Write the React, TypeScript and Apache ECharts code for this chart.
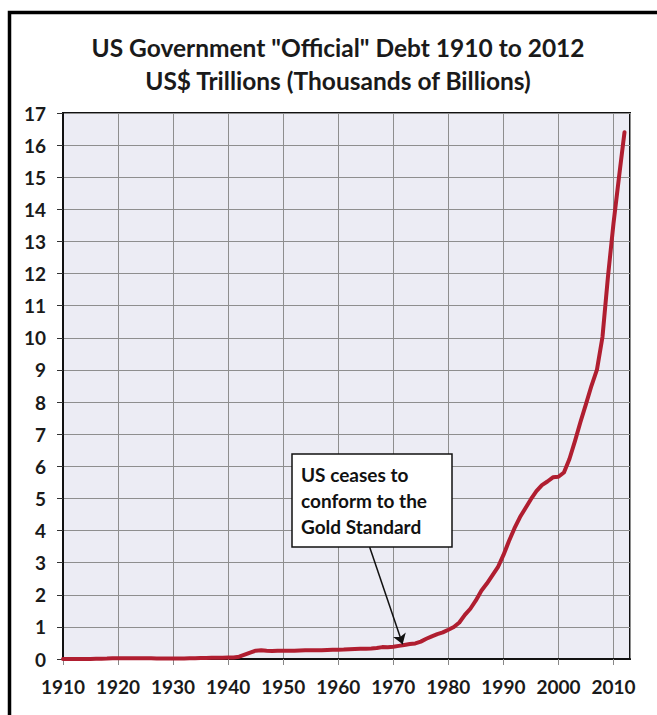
import React, { useEffect, useRef } from "react";
import * as echarts from "echarts";

const years: number[] = [
  1910, 1911, 1912, 1913, 1914, 1915, 1916, 1917, 1918, 1919,
  1920, 1921, 1922, 1923, 1924, 1925, 1926, 1927, 1928, 1929,
  1930, 1931, 1932, 1933, 1934, 1935, 1936, 1937, 1938, 1939,
  1940, 1941, 1942, 1943, 1944, 1945, 1946, 1947, 1948, 1949,
  1950, 1951, 1952, 1953, 1954, 1955, 1956, 1957, 1958, 1959,
  1960, 1961, 1962, 1963, 1964, 1965, 1966, 1967, 1968, 1969,
  1970, 1971, 1972, 1973, 1974, 1975, 1976, 1977, 1978, 1979,
  1980, 1981, 1982, 1983, 1984, 1985, 1986, 1987, 1988, 1989,
  1990, 1991, 1992, 1993, 1994, 1995, 1996, 1997, 1998, 1999,
  2000, 2001, 2002, 2003, 2004, 2005, 2006, 2007, 2008, 2009,
  2010, 2011, 2012,
];

// US$ trillions
const debt: number[] = [
  0.003, 0.003, 0.003, 0.003, 0.003, 0.003, 0.004, 0.006, 0.012, 0.025,
  0.024, 0.024, 0.023, 0.022, 0.021, 0.02, 0.02, 0.019, 0.018, 0.017,
  0.016, 0.017, 0.019, 0.023, 0.027, 0.029, 0.034, 0.036, 0.037, 0.04,
  0.043, 0.049, 0.072, 0.137, 0.201, 0.259, 0.269, 0.258, 0.252, 0.253,
  0.257, 0.255, 0.259, 0.266, 0.271, 0.274, 0.273, 0.272, 0.28, 0.287,
  0.291, 0.293, 0.303, 0.31, 0.316, 0.322, 0.328, 0.341, 0.37, 0.366,
  0.381, 0.408, 0.436, 0.466, 0.484, 0.541, 0.629, 0.706, 0.776, 0.829,
  0.909, 0.995, 1.137, 1.372, 1.565, 1.823, 2.125, 2.35, 2.602, 2.857,
  3.233, 3.665, 4.065, 4.411, 4.693, 4.974, 5.225, 5.413, 5.526, 5.656,
  5.674, 5.807, 6.228, 6.783, 7.379, 7.933, 8.507, 9.008, 10.025, 11.91,
  13.562, 15.0, 16.4,
];

const titleLines: string[] = [
  'US Government "Official" Debt 1910 to 2012',
  "US$ Trillions (Thousands of Billions)",
];

const noteLines: string[] = ["US ceases to", "conform to the", "Gold Standard"];

// arrow from the note box down to the curve (year, trillions)
const arrowFrom: number[] = [1965.7, 3.49];
const arrowTo: number[] = [1971.7, 0.46];

const FONT = "Lato, 'Open Sans', sans-serif";

export default function App() {
  const ref = useRef<HTMLDivElement>(null);

  useEffect(() => {
    const chart = echarts.init(ref.current!, null, { renderer: "svg" });
    const seriesData = years.map((y, i) => [y, debt[i]]);

    const option: any = {
      animation: false,
      backgroundColor: "#ffffff",
      grid: {
        left: 63,
        right: 27,
        top: 113,
        bottom: 56,
        show: true,
        backgroundColor: "#ececf4",
        borderColor: "#111111",
        borderWidth: 2,
      },
      xAxis: {
        type: "value",
        min: 1910,
        max: 2013,
        interval: 10,
        axisLine: { show: true, onZero: false, lineStyle: { color: "#111111", width: 2 } },
        axisTick: { show: true, length: 6, lineStyle: { color: "#888888", width: 1 } },
        axisLabel: {
          showMaxLabel: false,
          formatter: (v: number) => String(v),
          color: "#1a1a1a",
          fontWeight: "bold",
          fontFamily: FONT,
          fontSize: 19,
          margin: 18,
        },
        splitLine: { show: true, lineStyle: { color: "#8e8e8e", width: 1 } },
      },
      yAxis: {
        type: "value",
        min: 0,
        max: 17,
        interval: 1,
        axisLine: { show: true, lineStyle: { color: "#111111", width: 2 } },
        axisTick: { show: true, length: 6, lineStyle: { color: "#333333", width: 1 } },
        axisLabel: {
          color: "#1a1a1a",
          fontWeight: "bold",
          fontFamily: FONT,
          fontSize: 19,
          margin: 17,
        },
        splitLine: { show: true, lineStyle: { color: "#8e8e8e", width: 1 } },
      },
      series: [
        {
          type: "line",
          data: seriesData,
          showSymbol: false,
          symbol: "none",
          smooth: false,
          lineStyle: { color: "#b01e30", width: 4, join: "round", cap: "round" },
          z: 3,
          markLine: {
            silent: true,
            animation: false,
            symbolSize: 10,
            label: { show: false },
            lineStyle: { color: "#111111", width: 1.5, type: "solid" },
            data: [
              [
                { coord: arrowFrom, symbol: "none" },
                { coord: arrowTo, symbol: "arrow" },
              ],
            ],
          },
        },
      ],
      graphic: [
        {
          type: "rect",
          z: 100,
          shape: { x: 9.5, y: 12.5, width: 700, height: 800 },
          style: { fill: "none", stroke: "#000000", lineWidth: 3.5 },
        },
        ...titleLines.map((t, i) => ({
          type: "text",
          z: 100,
          x: 338,
          y: 47 + i * 33,
          style: {
            text: t,
            align: "center",
            verticalAlign: "middle",
            textAlign: "center",
            textVerticalAlign: "middle",
            fontSize: 24.5,
            fontWeight: "bold",
            fontFamily: FONT,
            fill: "#1a1a1a",
          },
        })),
        {
          type: "rect",
          z: 100,
          shape: { x: 292, y: 454, width: 160, height: 93 },
          style: { fill: "#ffffff", stroke: "#111111", lineWidth: 1.5 },
        },
        ...noteLines.map((t, i) => ({
          type: "text",
          z: 101,
          x: 301,
          y: 474 + i * 26,
          style: {
            text: t,
            align: "left",
            verticalAlign: "middle",
            textAlign: "left",
            textVerticalAlign: "middle",
            fontSize: 19,
            fontWeight: "bold",
            fontFamily: FONT,
            fill: "#111111",
          },
        })),
      ],
    };

    chart.setOption(option);
    return () => chart.dispose();
  }, []);

  return (
    <div
      ref={ref}
      style={{ position: "fixed", left: 0, top: 0, width: 657, height: 715 }}
    />
  );
}
